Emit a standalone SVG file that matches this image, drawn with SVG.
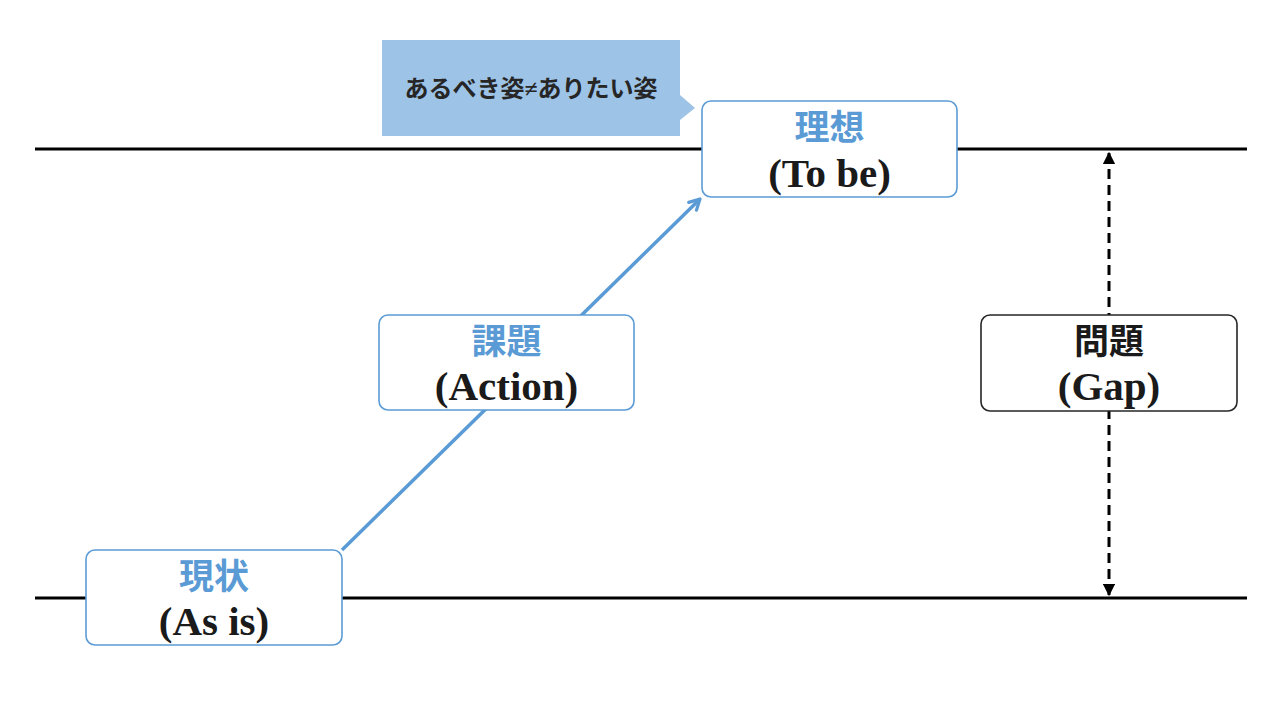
<svg xmlns="http://www.w3.org/2000/svg" width="1280" height="720" viewBox="0 0 1280 720">
<style>
.lvl{stroke:#000;stroke-width:3.2;fill:none}
.node{fill:#fff;stroke:#5B9BD5;stroke-width:1.6}
.gap{fill:#fff;stroke:#262626;stroke-width:1.6}
.jp{font-family:"Liberation Serif","Noto Sans CJK JP",serif;font-weight:bold;font-size:35px;text-anchor:middle}
.en{font-family:"Liberation Serif","Noto Sans CJK JP",serif;font-weight:bold;font-size:41px;text-anchor:middle;fill:#1a1a1a}
.blue{fill:#5B9BD5}
.dark{fill:#1a1a1a}
</style>
<defs>
<marker id="ab" viewBox="0 0 12 12" refX="10.5" refY="6" markerWidth="4.2" markerHeight="4.2" orient="auto" markerUnits="strokeWidth">
<path d="M2,1.5 L10.5,6 L2,10.5" fill="none" stroke="#5B9BD5" stroke-width="2.6" stroke-linecap="round" stroke-linejoin="round"/>
</marker>
<marker id="ak" viewBox="0 0 10 10" refX="9" refY="5" markerWidth="4.2" markerHeight="4.2" orient="auto-start-reverse" markerUnits="strokeWidth">
<path d="M0,0 L10,5 L0,10 z" fill="#000"/>
</marker>
</defs>
<rect width="1280" height="720" fill="#fff"/>
<g id="levels">
<line class="lvl" x1="35" y1="149" x2="1247" y2="149"/>
<line class="lvl" x1="35" y1="598" x2="1247" y2="598"/>
</g>
<g id="connectors">
<line x1="342" y1="550" x2="700" y2="199" stroke="#5B9BD5" stroke-width="3.5" marker-end="url(#ab)"/>
<line x1="1109" y1="153" x2="1109" y2="595" stroke="#000" stroke-width="3" stroke-dasharray="10,6" marker-start="url(#ak)" marker-end="url(#ak)"/>
</g>
<g id="callout">
<polygon points="382,40 680,40 680,95 695,108 680,120 680,136 382,136" fill="#9DC3E6"/>
<text x="531" y="97" font-family="Liberation Serif,'Noto Sans CJK JP',serif" font-weight="bold" font-size="24" text-anchor="middle" fill="#262626">あるべき姿≠ありたい姿</text>
</g>
<g id="node-tobe">
<rect class="node" x="702" y="101" width="255" height="96" rx="9"/>
<text class="jp blue" x="829.5" y="140">理想</text>
<text class="en" x="829.5" y="187">(To be)</text>
</g>
<g id="node-action">
<rect class="node" x="379" y="315" width="255" height="95" rx="9"/>
<text class="jp blue" x="506.5" y="354">課題</text>
<text class="en" x="506.5" y="400">(Action)</text>
</g>
<g id="node-asis">
<rect class="node" x="86" y="550" width="256" height="95" rx="9"/>
<text class="jp blue" x="214" y="589">現状</text>
<text class="en" x="214" y="635">(As is)</text>
</g>
<g id="node-gap">
<rect class="gap" x="981" y="315" width="256" height="96" rx="9"/>
<text class="jp dark" x="1109" y="354">問題</text>
<text class="en" x="1109" y="400">(Gap)</text>
</g>
</svg>
